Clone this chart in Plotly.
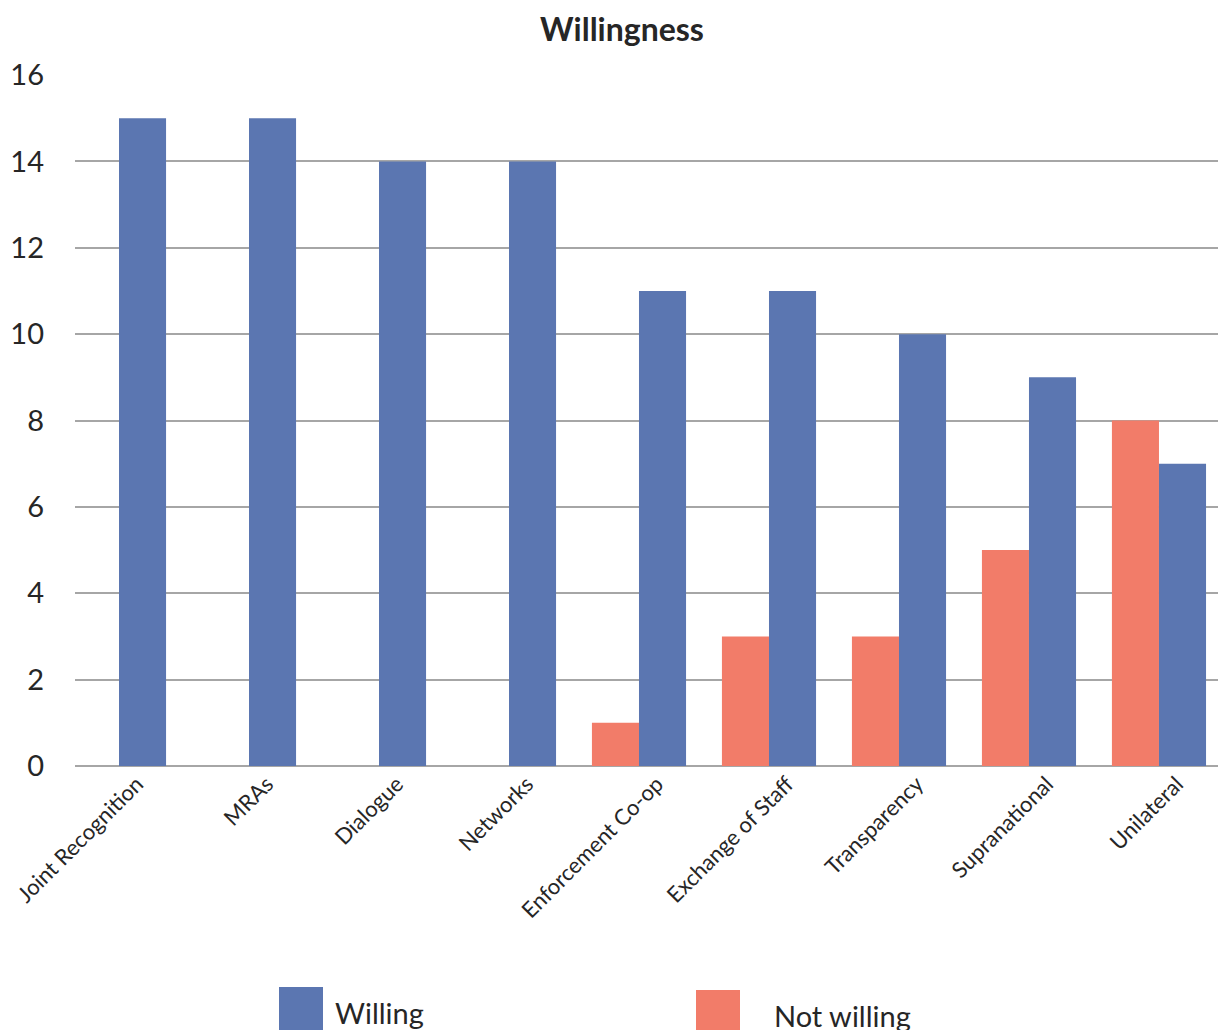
import plotly.graph_objects as go

# Survey responses per form of co-operation
categories = [
    "Joint Recognition", "MRAs", "Dialogue", "Networks", "Enforcement Co-op",
    "Exchange of Staff", "Transparency", "Supranational", "Unilateral",
]
not_willing = [0, 0, 0, 0, 1, 3, 3, 5, 8]
willing = [15, 15, 14, 14, 11, 11, 10, 9, 7]
y_ticks = [0, 2, 4, 6, 8, 10, 12, 14, 16]

BLUE = "#5B76B1"
SALMON = "#F27C69"
TEXT = "#262626"
GRID = "#A6A6A6"
FONT = "Lato, 'Open Sans', sans-serif"

fig = go.Figure()
fig.add_trace(go.Bar(
    x=categories, y=not_willing, name="Not willing",
    marker=dict(color=SALMON, line=dict(width=0)),
))
fig.add_trace(go.Bar(
    x=categories, y=willing, name="Willing",
    marker=dict(color=BLUE, line=dict(width=0)),
))

# plot area in pixels: x 75..1218, y 75..766
PL, PR, PT, PB = 75, 1218, 75, 766
W, H = PR - PL, PB - PT


def px(x):
    return (x - PL) / W


def py(y):
    return (PB - y) / H


# legend drawn as large swatches under the axis labels
legend_items = [("Willing", BLUE, 279, 323, 987, 333, 1012),
                ("Not willing", SALMON, 696, 740, 990, 772, 1015)]
shapes = []
annotations = []
for label, color, x0, x1, top, tx, ty in legend_items:
    shapes.append(dict(type="rect", xref="paper", yref="paper",
                       x0=px(x0), x1=px(x1), y0=py(1040), y1=py(top),
                       fillcolor=color, line=dict(width=0), layer="above"))
    annotations.append(dict(text=label, xref="paper", yref="paper",
                            x=px(tx), y=py(ty), xanchor="left", yanchor="middle",
                            showarrow=False,
                            font=dict(family=FONT, size=29, color=TEXT)))

fig.update_layout(
    width=1218, height=1030,
    margin=dict(l=PL, r=0, t=PT, b=1030 - PB, pad=0),
    paper_bgcolor="white", plot_bgcolor="white",
    barmode="group", bargap=0.276, bargroupgap=0,
    showlegend=False,
    title=dict(text="<b>Willingness</b>", x=622 / 1218, xanchor="center",
               y=1 - 30 / 1030, yanchor="middle", yref="container",
               font=dict(family=FONT, size=32, color=TEXT)),
    font=dict(family=FONT, color=TEXT),
    shapes=shapes, annotations=annotations,
)
fig.update_xaxes(
    type="category", range=[-0.3385, 8.454], tickangle=-45,
    tickfont=dict(family=FONT, size=22, color=TEXT),
    showgrid=False, showline=False, ticks="", automargin=False,
    ticklabelshift=18,
)
fig.update_yaxes(
    range=[0, 16], tickvals=y_ticks, ticktext=[str(v) for v in y_ticks],
    tickfont=dict(family=FONT, size=29, color=TEXT),
    showgrid=True, gridcolor=GRID, gridwidth=1.5,
    zeroline=True, zerolinecolor=GRID, zerolinewidth=1.5,
    showline=False, ticks="", ticklabelstandoff=30, automargin=False,
)

fig.write_html("out.html")
